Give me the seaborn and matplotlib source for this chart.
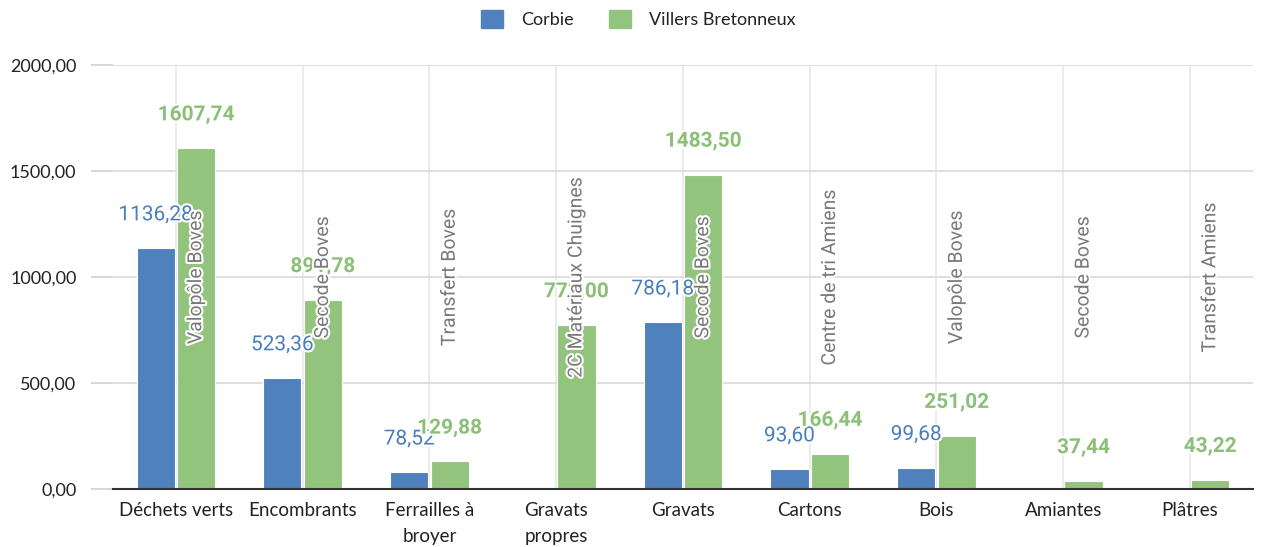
import numpy as np
import pandas as pd
import matplotlib
matplotlib.use("Agg")
import matplotlib.pyplot as plt
import matplotlib.patheffects as pe
from matplotlib.ticker import FuncFormatter
import seaborn as sns

# Waste streams (x categories)
categories = ["Déchets verts", "Encombrants", "Ferrailles à\nbroyer", "Gravats\npropres",
              "Gravats", "Cartons", "Bois", "Amiantes", "Plâtres"]
# Tonnages per collection site (NaN = no flow)
corbie = [1136.28, 523.36, 78.52, np.nan, 786.18, 93.60, 99.68, np.nan, np.nan]
villers = [1607.74, 891.78, 129.88, 773.00, 1483.50, 166.44, 251.02, 37.44, 43.22]
# Treatment destination of each stream
destinations = ["Valopôle Boves", "Secode Boves", "Transfert Boves", "2C Matériaux Chuignes",
                "Secode Boves", "Centre de tri Amiens", "Valopôle Boves", "Secode Boves",
                "Transfert Amiens"]
series = ["Corbie", "Villers Bretonneux"]
y_ticks = [0, 500, 1000, 1500, 2000]

BLUE = "#4f81bd"
GREEN = "#93c47d"
BLUE_TXT = "#4a7ebb"
GREEN_TXT = "#8cc078"

df = pd.DataFrame({
    "categorie": categories * 2,
    "site": [series[0]] * len(categories) + [series[1]] * len(categories),
    "tonnage": corbie + villers,
})

sns.set_theme(style="white")
plt.rcParams["font.family"] = ["Lato", "DejaVu Sans"]

fig = plt.figure(figsize=(12.69, 5.47), dpi=100)
ax = fig.add_axes([0.0887, 0.106, 0.899, 0.775])

sns.barplot(data=df, x="categorie", y="tonnage", hue="site", order=categories,
            hue_order=series, palette=[BLUE, GREEN], saturation=1, width=0.64, gap=0.06,
            edgecolor="white", linewidth=0.8, errorbar=None, ax=ax, legend=False,
            zorder=3)

ax.set_xlim(-0.5, 8.5)
ax.set_ylim(0, 2000)
ax.set_yticks(y_ticks)
ax.yaxis.set_major_formatter(FuncFormatter(lambda v, p: f"{v:.2f}".replace(".", ",")))
ax.set_xlabel("")
ax.set_ylabel("")

ax.grid(axis="y", color="#d9d9d9", linewidth=1.2, zorder=0)
ax.grid(axis="x", color="#e8e8e8", linewidth=1.2, zorder=0)
for s in ["left", "right", "top"]:
    ax.spines[s].set_visible(False)
ax.spines["bottom"].set_color("#333333")
ax.spines["bottom"].set_linewidth(1.5)
ax.spines["bottom"].set_zorder(4)

ax.tick_params(axis="y", length=16, width=1.2, color="#d0d0d0", pad=10,
               labelsize=13, labelcolor="#222222", left=True)
ax.tick_params(axis="x", length=0, pad=9, labelsize=13.5, labelcolor="#222222")
ax.yaxis.get_major_ticks()[0].tick1line.set_color("#333333")
for lbl in ax.get_xticklabels():
    lbl.set_linespacing(1.65)

halo = [pe.withStroke(linewidth=3, foreground="white")]

# Value labels above each bar
for cont, col, weight in zip(ax.containers, [BLUE_TXT, GREEN_TXT], ["normal", "bold"]):
    for bar in cont:
        h = bar.get_height()
        if not np.isfinite(h) or h <= 0:
            continue
        xc = bar.get_x() + bar.get_width() / 2
        ax.annotate(f"{h:.2f}".replace(".", ","), (xc, h), xytext=(0, 24),
                    textcoords="offset points", ha="center", va="center",
                    fontsize=15, color=col, fontweight=weight, family="Roboto",
                    path_effects=halo, zorder=5)

# Destination labels, vertical, over the second bar of each group
for bar, dest in zip(ax.containers[1], destinations):
    xc = bar.get_x() + bar.get_width() / 2
    ax.text(xc, 1000, dest, rotation=90, ha="center", va="center", fontsize=14,
            color="#7a7a7a", family="Roboto", path_effects=halo, zorder=6)

handles = [plt.Rectangle((0, 0), 1, 1, color=BLUE), plt.Rectangle((0, 0), 1, 1, color=GREEN)]
fig.legend(handles, series, loc="upper center", bbox_to_anchor=(0.503, 1.012), ncol=2,
           frameon=False, fontsize=13, handlelength=1.2, handleheight=1.2,
           columnspacing=2.0, handletextpad=1.0, labelcolor="#222222")

fig.savefig("out.png", dpi=100)
